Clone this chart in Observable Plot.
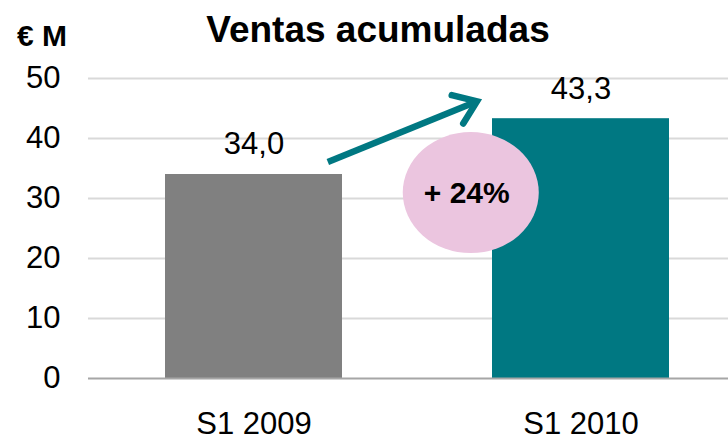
<!DOCTYPE html>
<html>
<head>
<meta charset="utf-8">
<script src="https://cdn.jsdelivr.net/npm/d3@7"></script>
<script src="https://cdn.jsdelivr.net/npm/@observablehq/plot@0.6"></script>
<style>
  body { margin: 0; background: #fff; font-family: "Liberation Sans", Arial, sans-serif; }
  #wrap { position: relative; width: 728px; height: 440px; overflow: hidden; }
  #title { position: absolute; left: 0; width: 756px; top: 9px; text-align: center; font-weight: bold; font-size: 37px; line-height: 42px; color: #000; }
  #unit { position: absolute; left: 17px; top: 18px; font-weight: bold; font-size: 30px; line-height: 36px; color: #000; }
</style>
</head>
<body>
<div id="wrap">
  <div id="chart"></div>
  <div id="title">Ventas acumuladas</div>
  <div id="unit">€ M</div>
</div>
<script>
// Data
const categories = ["S1 2009", "S1 2010"];
const values = [34.0, 43.3];
const valueLabels = ["34,0", "43,3"];
const barColors = ["#808080", "#007882"];
const yTicks = [0, 10, 20, 30, 40, 50];
const growthLabel = "+ 24%";

const data = categories.map((c, i) => ({cat: c, value: values[i], label: valueLabels[i], color: barColors[i]}));

const font = '"Liberation Sans", Arial, sans-serif';

const plot = Plot.plot({
  width: 728,
  height: 440,
  marginTop: 78,
  marginBottom: 62,
  marginLeft: 88,
  marginRight: 0,
  style: {fontFamily: font, fontSize: "31px", color: "#000", background: "#fff"},
  x: {domain: categories, range: [164, 669], paddingInner: 0.46, paddingOuter: 0, label: null},
  y: {domain: [0, 50], label: null},
  marks: [
    Plot.ruleY(yTicks.filter(d => d > 0), {stroke: "#d9d9d9", strokeWidth: 2}),
    Plot.barY(data, {x: "cat", y: "value", fill: "color"}),
    Plot.ruleY([0], {stroke: "#a6a6a6", strokeWidth: 2}),
    Plot.axisY({ticks: yTicks, tickSize: 0, tickPadding: 28, label: null, fontSize: 31}),
    Plot.axisX({tickSize: 0, tickPadding: 33, label: null, fontSize: 31}),
    Plot.text(data, {x: "cat", y: "value", text: "label", dy: -30, fontSize: 31, fill: "#000"})
  ]
});

document.getElementById("chart").appendChild(plot);

// Annotation: arrow and growth bubble, placed via the plot's scales
const xs = plot.scale("x");
const ys = plot.scale("y");
const bw = xs.bandwidth;
const cx = c => xs.apply(c) + bw / 2;

const svg = d3.select(plot);
const teal = "#007882";
const x1 = cx(categories[0]) + 0.42 * bw, y1 = ys.apply(36.0);
const x2 = cx(categories[1]) - 0.585 * bw, y2 = ys.apply(46.1);
const ang = Math.atan2(y2 - y1, x2 - x1);
const hl = 26, ha = Math.PI / 5;
const g = svg.append("g");
g.append("line").attr("x1", x1).attr("y1", y1).attr("x2", x2 - 3 * Math.cos(ang)).attr("y2", y2 - 3 * Math.sin(ang))
  .attr("stroke", teal).attr("stroke-width", 6.5);
g.append("polyline")
  .attr("points", [
    [x2 - hl * Math.cos(ang - ha), y2 - hl * Math.sin(ang - ha)],
    [x2, y2],
    [x2 - hl * Math.cos(ang + ha), y2 - hl * Math.sin(ang + ha)]
  ].map(p => p.join(",")).join(" "))
  .attr("fill", "none").attr("stroke", teal).attr("stroke-width", 6.5)
  .attr("stroke-linecap", "round").attr("stroke-linejoin", "miter");

const ex = cx(categories[1]) - 0.62 * bw, ey = ys.apply(30.9);
g.append("ellipse").attr("cx", ex).attr("cy", ey).attr("rx", 68).attr("ry", 60.5).attr("fill", "#ebc5df");
g.append("text").attr("x", ex - 4).attr("y", ey).attr("dy", "0.35em")
  .attr("text-anchor", "middle").attr("font-weight", "bold").attr("font-size", 30)
  .attr("font-family", font).attr("fill", "#000").text(growthLabel);
</script>
</body>
</html>
